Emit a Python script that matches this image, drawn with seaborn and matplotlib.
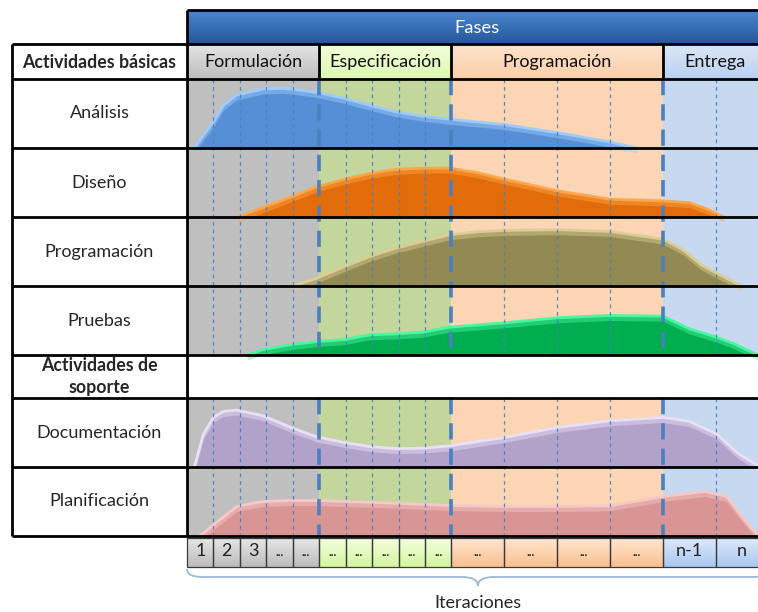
import numpy as np
import matplotlib.pyplot as plt
import matplotlib.colors as mcolors
from matplotlib.path import Path
from matplotlib.patches import PathPatch, Rectangle
import seaborn as sns

# ---- data -------------------------------------------------------------
phases = ["Formulación", "Especificación", "Programación", "Entrega"]
phase_iters = [5, 5, 4, 2]          # iterations in each phase
iter_width = [1, 1, 2, 2]           # width of one iteration in each phase
iter_labels = ["1", "2", "3", "...", "...",
               "...", "...", "...", "...", "...",
               "...", "...", "...", "...",
               "n-1", "n"]

basic_rows = ["Análisis", "Diseño", "Programación", "Pruebas"]
support_rows = ["Documentación", "Planificación"]

# activity level (fraction of row height) against iteration position
analisis_x = [0.28, 0.62, 1.0, 1.38, 1.88, 2.87, 3.6, 3.93, 4.9, 5.96, 6.9, 7.9,
              8.9, 9.93, 12, 14, 16, 17]
analisis_y = [0, 0.19, 0.39, 0.64, 0.79, 0.88, 0.89, 0.88, 0.83, 0.74, 0.64, 0.54,
              0.475, 0.43, 0.35, 0.23, 0.09, 0]

diseno_x = [1.93, 2.87, 3.93, 4.9, 5.96, 6.9, 7.9, 8.9, 9.93, 11, 12, 13, 14, 16,
            18, 19, 19.7, 20.3]
diseno_y = [0, 0.14, 0.30, 0.45, 0.565, 0.65, 0.71, 0.73, 0.73, 0.66, 0.565, 0.48,
            0.39, 0.265, 0.24, 0.215, 0.115, 0]

programacion_x = [4.0, 4.9, 5.96, 6.9, 7.9, 8.9, 9.93, 11, 12, 14, 16, 18, 18.76,
                  19.45, 20.04, 20.97]
programacion_y = [0, 0.115, 0.29, 0.44, 0.565, 0.665, 0.765, 0.81, 0.83, 0.84,
                  0.815, 0.70, 0.54, 0.315, 0.19, 0]

pruebas_x = [2.28, 2.87, 3.93, 4.9, 5.96, 6.9, 7.9, 8.9, 9.93, 12, 14, 16, 18, 19,
             20.04, 20.7, 21.6]
pruebas_y = [0, 0.08, 0.155, 0.2, 0.23, 0.30, 0.315, 0.34, 0.415, 0.48, 0.555,
             0.59, 0.58, 0.39, 0.265, 0.165, 0]

documentacion_x = [0.28, 0.62, 1.0, 1.38, 1.88, 2.87, 3.93, 4.9, 5.96, 6.9, 7.9,
                   8.9, 9.93, 12, 14, 16, 18, 19, 20.04, 20.8, 21.6]
documentacion_y = [0, 0.49, 0.74, 0.83, 0.85, 0.765, 0.59, 0.45, 0.365, 0.305,
                   0.275, 0.28, 0.315, 0.44, 0.59, 0.69, 0.74, 0.68, 0.49, 0.215,
                   0.015]

planificacion_x = [0.48, 1.0, 1.88, 2.87, 3.93, 4.9, 5.96, 7.9, 9.93, 12, 14, 16,
                   18, 19.6, 20.4, 21.1, 21.6]
planificacion_y = [0, 0.165, 0.44, 0.515, 0.53, 0.53, 0.515, 0.49, 0.455, 0.44,
                   0.44, 0.45, 0.59, 0.665, 0.59, 0.24, 0]

curves = {
    "Análisis": (analisis_x, analisis_y, "#568fd6", "#9fcbfa"),
    "Diseño": (diseno_x, diseno_y, "#e26b0a", "#ffa748"),
    "Programación": (programacion_x, programacion_y, "#938953", "#dccd94"),
    "Pruebas": (pruebas_x, pruebas_y, "#00ae4f", "#4cf5a0"),
    "Documentación": (documentacion_x, documentacion_y, "#b2a1c8", "#e9e0f7"),
    "Planificación": (planificacion_x, planificacion_y, "#d99594", "#f6c8c8"),
}

# ---- layout -----------------------------------------------------------
PX = 26.44                       # pixels per iteration unit
LEFT, TABLE_R, RIGHT = 12, 187, 758
AMP = 67                         # pixel height of a full activity level

def u(px):
    return (px - TABLE_R) / PX

area_bg = ["#bfbfbf", "#c3d69b", "#fcd5b4", "#c6d9f1"]
head_top = ["#e4e4e4", "#f2ffdc", "#fde3cd", "#dde8f8"]
head_bot = ["#bdbdbd", "#dcf8b0", "#fbcfa8", "#b9d0f0"]
cell_top = ["#e6e6e6", "#f4ffe0", "#fee6d2", "#dde9fb"]
cell_bot = ["#bcbcbc", "#d3f59d", "#fbc08e", "#a9c8f0"]

sns.set_theme(style="white")
plt.rcParams["font.family"] = ["Lato", "DejaVu Sans"]

fig = plt.figure(figsize=(7.58, 6.12), dpi=100)
ax = fig.add_axes([0, 0, 1, 1])


def grad_rect(x0, x1, y0, y1, c_top, c_bot, z=1):
    g = np.linspace(0, 1, 64)[:, None, None]
    top = np.array(mcolors.to_rgb(c_top))
    bot = np.array(mcolors.to_rgb(c_bot))
    img = top * (1 - g) + bot * g
    ax.imshow(img, extent=(x0, x1, y1, y0), aspect="auto", zorder=z,
              interpolation="bilinear")


widths = np.repeat(iter_width, phase_iters)
edges = np.concatenate([[0], np.cumsum(widths)])
phase_edges = np.concatenate([[0], np.cumsum(np.array(phase_iters) * np.array(iter_width))])

basic_tops = [79 + 69 * i for i in range(len(basic_rows))]
support_head = (355, 398)
support_tops = [398 + 69 * i for i in range(len(support_rows))]
bottom = 536

# phase backgrounds
for i in range(len(phases)):
    for y0, y1 in [(79, 355), (398, bottom)]:
        ax.add_patch(Rectangle((phase_edges[i], y0), phase_edges[i + 1] - phase_edges[i],
                               y1 - y0, color=area_bg[i], zorder=1, lw=0))

# activity curves
for name, top in zip(basic_rows + support_rows, basic_tops + support_tops):
    xs, ys, col, edge = curves[name]
    xs = np.array(xs)
    base = top + 69
    yy = base - np.array(ys) * AMP
    ax.fill_between(xs, base, yy, color=col, lw=0, zorder=3)
    ax.fill_between(xs, yy, yy + 5, color=edge, lw=0, zorder=3, alpha=0.45)
    sns.lineplot(x=xs, y=yy, ax=ax, color=edge, lw=2.0, zorder=4, sort=False,
                 estimator=None)

# dashed iteration and phase lines
thin = [e for e in edges[1:-1] if e not in phase_edges]
thick = phase_edges[1:-1]
for y0, y1 in [(79, 355), (398, bottom)]:
    ax.vlines(thin, y0, y1, colors="#4a7fc0", lw=0.9, linestyles=(0, (3, 3)),
              zorder=5, alpha=0.9)
    ax.vlines(thick, y0, y1, colors="#4a7fc0", lw=2.6, linestyles=(0, (4.5, 2.5)),
              zorder=5)

# "Fases" bar
grad_rect(0, u(RIGHT + 5), 10, 44, "#4a88cf", "#25579a", z=2)
ax.text(u(477), 28, "Fases", color="white", fontsize=13.2,
        ha="center", va="center", zorder=6)

# phase header row
for i, ph in enumerate(phases):
    x1 = phase_edges[i + 1] if i < len(phases) - 1 else u(RIGHT + 5)
    grad_rect(phase_edges[i], x1, 44, 79, head_top[i], head_bot[i], z=2)
    cx = (phase_edges[i] + phase_edges[i + 1]) / 2 if i < len(phases) - 1 else u(715)
    ax.text(cx, 62, ph, fontsize=13, ha="center", va="center", color="#111111",
            zorder=6)

# left table labels
lx = u((LEFT + TABLE_R) / 2)
ax.text(lx, 62, "Actividades básicas", fontsize=12.8, fontweight="bold",
        ha="center", va="center", zorder=6)
for name, top in zip(basic_rows, basic_tops):
    ax.text(lx, top + 34.5, name, fontsize=13, ha="center", va="center", zorder=6)
ax.text(lx, sum(support_head) / 2, "Actividades de\nsoporte", fontsize=12.8,
        fontweight="bold", ha="center", va="center", linespacing=1.3, zorder=6)
for name, top in zip(support_rows, support_tops):
    ax.text(lx, top + 34.5, name, fontsize=13, ha="center", va="center", zorder=6)

# black grid
hl = [44, 79] + basic_tops[1:] + [355, 398] + support_tops[1:] + [bottom]
ax.hlines(hl, u(LEFT), u(RIGHT + 5), colors="black", lw=2, zorder=7)
ax.hlines([10], 0, u(RIGHT + 5), colors="black", lw=2, zorder=7)
ax.vlines([u(LEFT)], 44, bottom, colors="black", lw=2, zorder=7)
ax.vlines([0], 10, bottom, colors="black", lw=2, zorder=7)
ax.vlines(thick, 44, 79, colors="black", lw=2, zorder=7)

# iteration cells
for k, lab in enumerate(iter_labels):
    ph = np.searchsorted(phase_edges, edges[k], side="right") - 1
    grad_rect(edges[k], edges[k + 1], 538, 567, cell_top[ph], cell_bot[ph], z=2)
    ax.add_patch(Rectangle((edges[k], 538), edges[k + 1] - edges[k], 29,
                           fill=False, ec="#3a3a3a", lw=0.9, zorder=6))
    small = lab == "..."
    ax.text((edges[k] + edges[k + 1]) / 2, 551 if not small else 553, lab,
            fontsize=8.5 if small else 13, fontweight="bold" if small else "normal",
            ha="center", va="center", color="#222222", zorder=7)

# brace under iterations
e0, e1 = edges[0], edges[-1]
mid = (e0 + e1) / 2
yb, ym, yt = 569, 577, 586
verts = [(e0, yb), (e0, ym), (e0 + 0.6, ym), (mid - 0.6, ym), (mid, ym), (mid, yt),
         (mid, ym), (mid + 0.6, ym), (e1 - 0.6, ym), (e1, ym), (e1, yb)]
codes = [Path.MOVETO, Path.CURVE3, Path.CURVE3, Path.LINETO, Path.CURVE3, Path.CURVE3,
         Path.CURVE3, Path.CURVE3, Path.LINETO, Path.CURVE3, Path.CURVE3]
ax.add_patch(PathPatch(Path(verts, codes), fill=False, ec="#9db8d6", lw=1.3, zorder=6))
ax.text(mid, 603, "Iteraciones", fontsize=13, ha="center", va="center", zorder=7)

ax.set_xlim(u(0), u(RIGHT))
ax.set_ylim(612, 0)
ax.set_axis_off()
fig.savefig("out.png", dpi=100)
